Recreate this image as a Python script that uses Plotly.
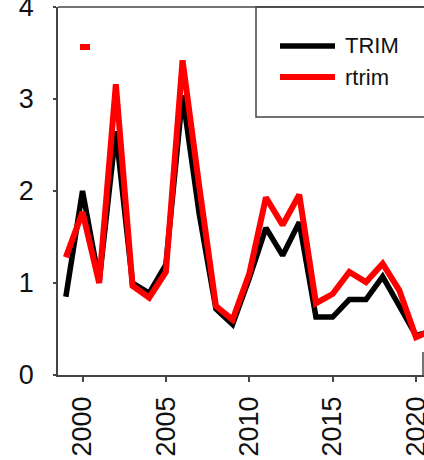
import plotly.graph_objects as go

years = list(range(1999, 2022))
trim = [0.85, 2.00, 1.02, 2.65, 1.00, 0.89, 1.20, 3.04, 1.75, 0.72, 0.55, 1.05,
        1.60, 1.30, 1.66, 0.63, 0.63, 0.82, 0.82, 1.07, 0.75, 0.43, 0.48]
rtrim = [1.28, 1.77, 1.00, 3.16, 0.97, 0.84, 1.12, 3.42, 2.05, 0.75, 0.60, 1.10,
         1.93, 1.63, 1.96, 0.78, 0.88, 1.12, 1.01, 1.21, 0.92, 0.41, 0.49]
stray_x = [1999.85, 2000.45]
stray_y = [3.565, 3.565]
x_ticks = [2000, 2005, 2010, 2015, 2020]
y_ticks = [0, 1, 2, 3, 4]

W, H = 424, 460
L, R, T, B = 58, 0, 7, 85
PW = W - L - R
PH = H - T - B


def px(x):
    return (x - L) / PW


def py(y):
    return 1 - (y - T) / PH


fig = go.Figure()
fig.add_trace(go.Scatter(x=years, y=trim, mode="lines", name="TRIM",
                         line=dict(color="#000000", width=5.5), showlegend=False))
fig.add_trace(go.Scatter(x=years, y=rtrim, mode="lines", name="rtrim",
                         line=dict(color="#ff0000", width=6), showlegend=False))
fig.add_trace(go.Scatter(x=stray_x, y=stray_y, mode="lines", name="mark",
                         line=dict(color="#ff0000", width=6), showlegend=False))

axis_col = "#444444"
shapes = [
    dict(type="line", xref="paper", yref="paper", x0=0, x1=1, y0=1, y1=1,
         line=dict(color=axis_col, width=1.5)),
    dict(type="line", xref="paper", yref="paper", x0=px(423), x1=px(423), y0=py(352), y1=py(375),
         line=dict(color=axis_col, width=1.5)),
    dict(type="rect", xref="paper", yref="paper", x0=px(256), x1=px(430), y0=py(117), y1=py(7),
         line=dict(color=axis_col, width=1.5), fillcolor="rgba(0,0,0,0)"),
    dict(type="line", xref="paper", yref="paper", x0=px(280), x1=px(335), y0=py(46), y1=py(46),
         line=dict(color="#000000", width=5.5)),
    dict(type="line", xref="paper", yref="paper", x0=px(280), x1=px(335), y0=py(77), y1=py(77),
         line=dict(color="#ff0000", width=6)),
]
annotations = [
    dict(text="TRIM", xref="paper", yref="paper", x=px(343), y=py(46), xanchor="left",
         yanchor="middle", showarrow=False, font=dict(size=22, color="#111111")),
    dict(text="rtrim", xref="paper", yref="paper", x=px(343), y=py(77), xanchor="left",
         yanchor="middle", showarrow=False, font=dict(size=22, color="#111111")),
]

fig.update_layout(
    width=W, height=H,
    margin=dict(l=L, r=R, t=T, b=B, pad=0, autoexpand=False),
    paper_bgcolor="white", plot_bgcolor="white",
    font=dict(family="Liberation Sans, Arial, sans-serif", color="#111111"),
    shapes=shapes, annotations=annotations,
    showlegend=False,
)
fig.update_xaxes(range=[1998.53, 2020.48], tickvals=x_ticks, ticktext=[str(v) for v in x_ticks],
                 tickangle=-90, ticks="outside", ticklen=5, tickcolor=axis_col, tickwidth=1.5,
                 showline=True, linecolor=axis_col, linewidth=1.5, showgrid=False, zeroline=False,
                 tickfont=dict(size=27), ticklabelstandoff=4, ticklabeloverflow="allow",
                 automargin=False)
fig.update_yaxes(range=[0, 4], tickvals=y_ticks, ticks="outside", ticklen=3, tickcolor=axis_col,
                 tickwidth=1.5, showline=True, linecolor=axis_col, linewidth=1.5, showgrid=False,
                 zeroline=False, tickfont=dict(size=27), ticklabelstandoff=14,
                 ticklabeloverflow="allow", automargin=False)

fig.write_html("out.html", config={"displayModeBar": False},
               post_script="document.body.style.margin='0';document.body.style.overflow='hidden';")
